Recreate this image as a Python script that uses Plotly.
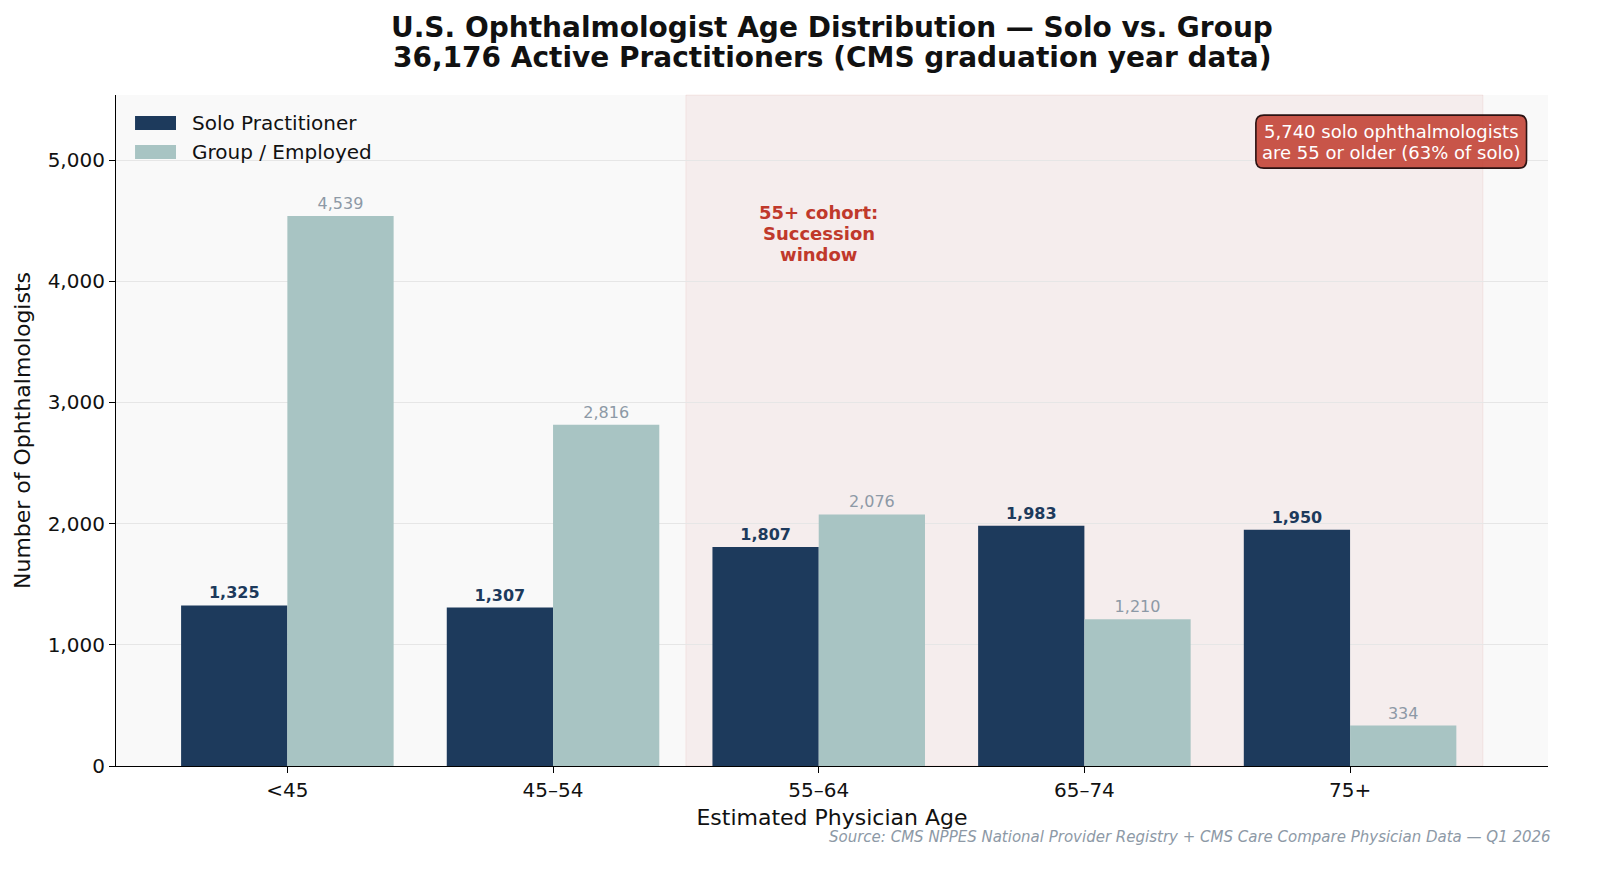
import plotly.graph_objects as go

categories = ["<45", "45–54", "55–64", "65–74", "75+"]
solo = [1325, 1307, 1807, 1983, 1950]
group = [4539, 2816, 2076, 1210, 334]
series_names = ["Solo Practitioner", "Group / Employed"]

NAVY = "#1d3a5c"
TEAL = "#a8c4c3"
RED = "#c0392b"
GRAYTXT = "#8d99a6"
FONT = "DejaVu Sans"

fig = go.Figure()
fig.add_trace(go.Bar(
    x=categories, y=solo, name=series_names[0], showlegend=False,
    marker=dict(color=NAVY, line=dict(width=0)),
    text=[f"<b>{v:,}</b>" for v in solo], textposition="outside",
    textfont=dict(color=NAVY, size=16, family=FONT), cliponaxis=False,
))
fig.add_trace(go.Bar(
    x=categories, y=group, name=series_names[1], showlegend=False,
    marker=dict(color=TEAL, line=dict(width=0)),
    text=[f"{v:,}" for v in group], textposition="outside",
    textfont=dict(color=GRAYTXT, size=16, family=FONT), cliponaxis=False,
))

# shaded 55+ region
fig.add_shape(type="rect", xref="x", yref="paper", x0=1.5, x1=4.5, y0=0, y1=1,
              fillcolor="rgba(192,57,43,0.06)", line=dict(width=1, color="rgba(192,57,43,0.08)"),
              layer="below")

# cohort label (three lines with tight spacing)
for i, line in enumerate(["55+ cohort:", "Succession", "window"]):
    fig.add_annotation(x=2, y=4398, xref="x", yref="y", yshift=21 - 21 * i,
                       text=f"<b>{line}</b>", showarrow=False,
                       font=dict(color=RED, size=18, family=FONT),
                       xanchor="center", yanchor="middle")

# legend (manual, wide swatches)
for i, (nm, col) in enumerate(zip(series_names, [NAVY, TEAL])):
    yc = [0.9583, 0.9151][i]
    fig.add_shape(type="rect", xref="paper", yref="paper",
                  x0=0.0133, x1=0.0419, y0=yc - 0.0104, y1=yc + 0.0104,
                  fillcolor=col, line=dict(width=0))
    fig.add_annotation(x=0.0517, y=yc, xref="paper", yref="paper",
                       xanchor="left", yanchor="middle", text=nm, showarrow=False,
                       font=dict(size=20, family=FONT, color="#111111"))

# rounded callout box
x0, x1, y0, y1 = 0.796, 0.985, 0.891, 0.970
rx, ry = 0.0056, 0.0119
path = (f"M{x0+rx},{y0} L{x1-rx},{y0} Q{x1},{y0} {x1},{y0+ry} "
        f"L{x1},{y1-ry} Q{x1},{y1} {x1-rx},{y1} L{x0+rx},{y1} "
        f"Q{x0},{y1} {x0},{y1-ry} L{x0},{y0+ry} Q{x0},{y0} {x0+rx},{y0} Z")
fig.add_shape(type="path", xref="paper", yref="paper", path=path,
              fillcolor="rgba(192,57,43,0.85)", line=dict(color="#2a1212", width=1.6))
for i, line in enumerate(["5,740 solo ophthalmologists", "are 55 or older (63% of solo)"]):
    fig.add_annotation(x=(x0 + x1) / 2, y=(y0 + y1) / 2, xref="paper", yref="paper",
                       yshift=10.5 - 21 * i, xanchor="center", yanchor="middle",
                       text=line, showarrow=False,
                       font=dict(color="white", size=18, family=FONT))

fig.add_annotation(x=1.0035, y=-0.106, xref="paper", yref="paper",
                   xanchor="right", yanchor="middle",
                   text="<i>Source: CMS NPPES National Provider Registry + CMS Care Compare Physician Data — Q1 2026</i>",
                   showarrow=False, font=dict(color=GRAYTXT, size=15, family=FONT))

fig.add_annotation(x=0.5, y=1.101, xref="paper", yref="paper", xanchor="center", yanchor="middle",
                   text="<b>U.S. Ophthalmologist Age Distribution — Solo vs. Group</b>",
                   showarrow=False, font=dict(size=28, family=FONT, color="#111111"))
fig.add_annotation(x=0.5, y=1.056, xref="paper", yref="paper", xanchor="center", yanchor="middle",
                   text="<b>36,176 Active Practitioners (CMS graduation year data)</b>",
                   showarrow=False, font=dict(size=28, family=FONT, color="#111111"))

fig.update_layout(
    width=1600, height=878,
    paper_bgcolor="white", plot_bgcolor="#f9f9f9",
    font=dict(family=FONT, size=20, color="#111111"),
    margin=dict(l=116, r=52, t=95, b=112),
    barmode="group", bargap=0.2, bargroupgap=0,
    showlegend=False,
    xaxis=dict(type="category", range=[-0.645, 4.745],
               title=dict(text="Estimated Physician Age", font=dict(size=22), standoff=8),
               showline=True, linecolor="black", linewidth=1.2,
               ticks="outside", ticklen=6, tickcolor="black",
               tickfont=dict(size=20), showgrid=False, zeroline=False),
    yaxis=dict(range=[0, 5537], tickvals=[0, 1000, 2000, 3000, 4000, 5000],
               ticktext=["0", "1,000", "2,000", "3,000", "4,000", "5,000"],
               title=dict(text="Number of Ophthalmologists", font=dict(size=22), standoff=10),
               showline=True, linecolor="black", linewidth=1.2,
               ticks="outside", ticklen=6, tickcolor="black",
               tickfont=dict(size=20), showgrid=True, gridcolor="#e6e6e6",
               gridwidth=1, zeroline=False),
)

fig.write_html("out.html", config={"displayModeBar": False},
               post_script="document.body.style.margin='0';document.body.style.overflow='hidden';")
